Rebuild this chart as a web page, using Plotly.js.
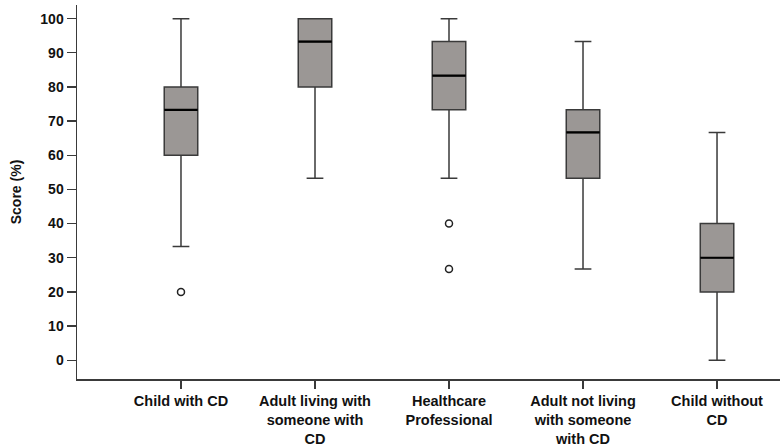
<!DOCTYPE html>
<html>
<head>
<meta charset="utf-8">
<script src="https://cdn.plot.ly/plotly-3.0.1.min.js"></script>
<style>html,body{margin:0;padding:0;background:#fff;}#chart{width:780px;height:448px;}</style>
</head>
<body>
<div id="chart"></div>
<script>
const categories = ["Child with CD", "Adult living with<br>someone with<br>CD", "Healthcare<br>Professional", "Adult not living<br>with someone<br>with CD", "Child without<br>CD"];
const lowerWhisker = [33.3, 53.3, 53.3, 26.7, 0];
const q1Values = [60, 80, 73.3, 53.3, 20];
const medianValues = [73.3, 93.3, 83.3, 66.7, 30];
const q3Values = [80, 100, 93.3, 73.3, 40];
const upperWhisker = [100, 100, 100, 93.3, 66.7];
const outlierCategory = [categories[0], categories[2], categories[2]];
const outlierValues = [20, 40, 26.7];
const yTicks = [0, 10, 20, 30, 40, 50, 60, 70, 80, 90, 100];

const boxWidth = 0.25;
const fontFamily = 'Liberation Sans, Arial, sans-serif';
const traces = [
  {
    type: 'box',
    x: categories,
    q1: q1Values,
    median: medianValues,
    q3: q3Values,
    lowerfence: lowerWhisker,
    upperfence: upperWhisker,
    boxpoints: false,
    width: boxWidth,
    whiskerwidth: 0.5,
    fillcolor: '#9b9795',
    line: {color: '#3a3a3a', width: 1.5},
    hoverinfo: 'skip',
    showlegend: false
  },
  {
    type: 'scatter',
    mode: 'markers',
    x: outlierCategory,
    y: outlierValues,
    marker: {symbol: 'circle-open', size: 7, color: '#222', line: {width: 1.5}},
    hoverinfo: 'skip',
    showlegend: false
  }
];

const shapes = medianValues.map((m, i) => ({
  type: 'line', xref: 'x', yref: 'y',
  x0: i - boxWidth / 2, x1: i + boxWidth / 2, y0: m, y1: m,
  line: {color: '#000', width: 2.2}
}));

const layout = {
  width: 780, height: 448,
  margin: {l: 77, r: 0, t: 5, b: 69},
  paper_bgcolor: '#fff', plot_bgcolor: '#fff',
  font: {family: fontFamily, size: 14, color: '#111'},
  shapes: shapes,
  xaxis: {
    type: 'category',
    range: [-0.776, 4.47],
    showgrid: false, zeroline: false,
    showline: true, linecolor: '#3a3a3a', linewidth: 1.5,
    ticks: 'outside', ticklen: 8, tickcolor: '#3a3a3a', tickwidth: 1.3,
    tickfont: {family: fontFamily, size: 14.5, color: '#111', weight: 'bold'}
  },
  yaxis: {
    range: [-5.5, 104],
    tickvals: yTicks,
    showgrid: false, zeroline: false,
    showline: true, linecolor: '#3a3a3a', linewidth: 1.5,
    ticks: 'outside', ticklen: 9, tickcolor: '#3a3a3a', tickwidth: 1.3,
    tickfont: {family: fontFamily, size: 14, color: '#111', weight: 'bold'},
    title: {text: 'Score (%)', font: {family: fontFamily, size: 14, color: '#111', weight: 'bold'}, standoff: 15}
  }
};

Plotly.newPlot('chart', traces, layout, {displayModeBar: false, staticPlot: true});
</script>
</body>
</html>
